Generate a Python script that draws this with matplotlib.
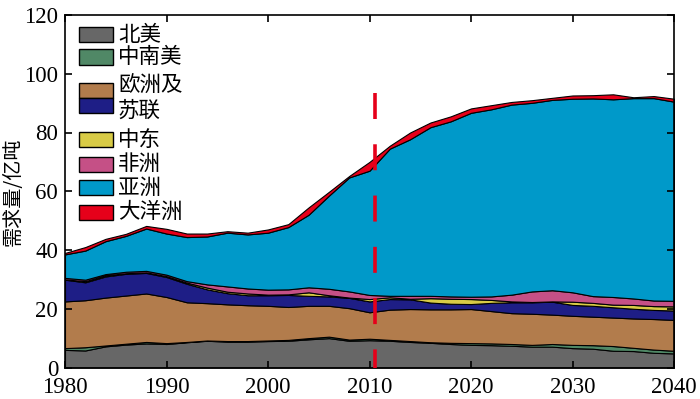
import numpy as np
import matplotlib
matplotlib.use("Agg")
import matplotlib.pyplot as plt
from matplotlib.patches import Rectangle

years = np.arange(1980, 2041, 2)

north_america = [6.0, 5.8, 7.2, 7.8, 8.2, 8.0, 8.6, 9.1, 8.8, 8.8, 9.0, 9.1, 9.6, 10.0, 9.1, 9.3,
                 9.1, 8.7, 8.4, 8.0, 7.7, 7.6, 7.4, 7.1, 7.1, 6.6, 6.4, 5.7, 5.6, 5.0, 4.8]
latin_america = [0.6, 1.1, 0.3, 0.3, 0.5, 0.3, 0.1, 0.1, 0.2, 0.2, 0.2, 0.3, 0.4, 0.5, 0.4, 0.5,
                 0.3, 0.3, 0.2, 0.4, 0.6, 0.6, 0.6, 0.6, 0.9, 1.1, 1.2, 1.6, 1.1, 1.1, 0.9]
europe = [15.9, 16.0, 16.3, 16.4, 16.5, 15.7, 13.5, 12.7, 12.5, 12.2, 11.8, 11.2, 11.0, 10.5, 10.7, 9.0,
          10.3, 10.9, 11.2, 11.4, 11.6, 11.0, 10.5, 10.6, 10.0, 9.9, 9.7, 9.7, 10.0, 10.4, 10.5]
ussr = [7.4, 6.1, 7.2, 7.4, 7.0, 6.8, 6.3, 4.7, 3.8, 3.4, 3.6, 4.1, 3.4, 3.2, 3.5, 3.7,
        3.6, 3.3, 2.3, 1.9, 1.7, 2.8, 3.7, 3.9, 4.4, 3.7, 3.7, 3.5, 3.3, 3.1, 3.2]
middle_east = [0.1, 0.4, 0.4, 0.2, 0.2, 0.3, 0.4, 0.6, 0.5, 0.6, 0.2, 0.2, 1.2, 0.4, 0.1, 0.8,
               0.6, 0.2, 1.5, 1.7, 1.7, 1.0, 0.3, 0.1, 0.1, 1.1, 1.0, 0.9, 1.3, 1.3, 1.4]
africa = [0.5, 0.5, 0.4, 0.5, 0.5, 0.5, 0.5, 1.1, 1.8, 1.7, 1.7, 1.7, 1.7, 2.2, 2.1, 1.4,
          0.5, 1.0, 0.8, 0.8, 0.8, 1.2, 2.3, 3.6, 3.8, 3.2, 2.3, 2.6, 2.2, 1.9, 1.9]
asia = [8.0, 9.9, 11.2, 12.2, 14.4, 14.0, 15.0, 16.3, 18.3, 18.4, 19.4, 21.2, 24.7, 31.7, 38.8, 42.3,
        50.1, 53.3, 57.4, 59.6, 62.6, 63.7, 64.7, 64.2, 64.8, 65.9, 67.3, 67.3, 68.2, 68.9, 67.8]
oceania = [0.5, 1.2, 0.8, 0.7, 0.9, 1.6, 1.2, 1.0, 0.5, 0.6, 1.1, 1.0, 2.5, 1.3, 0.5, 3.0,
           1.0, 2.3, 1.6, 1.7, 1.5, 1.4, 0.9, 0.9, 0.7, 1.1, 1.1, 1.7, 0.3, 0.7, 1.0]

labels = ["北美", "中南美", "欧洲及", "苏联", "中东", "非洲", "亚洲", "大洋洲"]
colors = ["#676767", "#508866", "#b27c4c", "#1e1e86", "#d8cb46", "#c55086", "#0099c9", "#e6001a"]

split_year = 2010.5
split_top = 93.5
x_ticks = [1980, 1990, 2000, 2010, 2020, 2030, 2040]
y_ticks = [0, 20, 40, 60, 80, 100, 120]

plt.rcParams["font.family"] = ["Liberation Serif", "DejaVu Serif"]
cjk = ["Noto Sans CJK SC", "DejaVu Sans"]

fig = plt.figure(figsize=(7.0, 3.99), dpi=100)
W, H = 700, 399
ax = fig.add_axes([65 / W, 31.5 / H, 609 / W, 352.5 / H])

series = [north_america, latin_america, europe, ussr, middle_east, africa, asia, oceania]
ax.stackplot(years, *series, colors=colors, edgecolor="black", linewidth=0.8)

ax.plot([split_year, split_year], [split_top, 0], color="#e6001a", lw=2.6,
        dashes=(7.2, 7.0), solid_capstyle="butt", dash_capstyle="butt", zorder=5)

ax.set_xlim(1980, 2040)
ax.set_ylim(0, 120)
ax.set_xticks(x_ticks)
ax.set_yticks(y_ticks)
ax.set_xticklabels([str(v) for v in x_ticks], fontfamily="Liberation Serif", fontsize=16.5)
ax.set_yticklabels([str(v) for v in y_ticks], fontfamily="Liberation Serif", fontsize=16.5)
ax.tick_params(direction="in", length=5, width=1.2, top=True, right=True)
ax.tick_params(axis="x", pad=6.5)
ax.tick_params(axis="y", pad=5)
for s in ax.spines.values():
    s.set_linewidth(1.2)

ax.set_ylabel("需求量/亿吨", fontfamily=cjk, fontsize=14.5)
ax.yaxis.set_label_coords(-41 / 609, 0.5)

# manual legend (pixel layout of the reference)
def fig_rect(x0, y0, x1, y1, color):
    r = Rectangle((x0 / W, 1 - y1 / H), (x1 - x0) / W, (y1 - y0) / H,
                  transform=fig.transFigure, facecolor=color, edgecolor="black",
                  linewidth=1.0, zorder=10)
    fig.patches.append(r)

patch_rows = [(27, 42), (49, 65), (83, 98), (98, 113), (132, 147), (157, 172), (180, 195), (205, 220)]
text_y = [35, 57, 85, 111, 140, 164, 188, 212]
for (y0, y1), c in zip(patch_rows, colors):
    fig_rect(79, y0, 113, y1, c)
for lab, ty in zip(labels, text_y):
    fig.text(118 / W, 1 - ty / H, lab, fontfamily=cjk, fontsize=15.5, va="center", ha="left")

fig.savefig("out.png", dpi=100)
